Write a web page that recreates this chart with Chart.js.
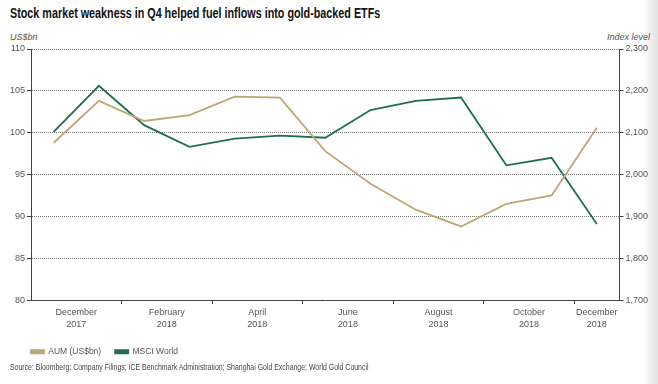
<!DOCTYPE html>
<html lang="en">
<head>
<meta charset="UTF-8">
<title>Gold ETF AUM vs MSCI World</title>
<script src="https://cdn.jsdelivr.net/npm/chart.js"></script>
<style>
  body { margin: 0; width: 658px; height: 384px; background: #fff; position: relative; overflow: hidden;
         font-family: "Liberation Sans", Arial, sans-serif; color: #555; }
  .shade { position: absolute; right: 0; top: 0; width: 16px; height: 384px;
           background: linear-gradient(to right, #ffffff, #e2e2e2); }
  /* the original uses a condensed face, squeeze the regular one */
  h1 { position: absolute; left: 10px; top: 5px; margin: 0; color: #111; white-space: nowrap;
       font: bold 14.2px "Liberation Sans", Arial, sans-serif;
       transform: scaleX(0.76); transform-origin: 0 0; }
  .unit { position: absolute; top: 32px; font-size: 9px; font-style: italic; color: #555; }
  .source { position: absolute; left: 10px; top: 362px; color: #444; white-space: nowrap;
            font: 9px "Liberation Sans", Arial, sans-serif;
            transform: scaleX(0.77); transform-origin: 0 0; }
  #wrap { position: absolute; left: 0; top: 0; width: 658px; height: 366px; }
</style>
</head>
<body>
<div class="shade"></div>
<h1>Stock market weakness in Q4 helped fuel inflows into gold-backed ETFs</h1>
<div class="unit" style="left:10px">US$bn</div>
<div class="unit" style="right:8px">Index level</div>
<div id="wrap"><canvas id="grafico"></canvas></div>
<div class="source">Source: Bloomberg; Company Filings; ICE Benchmark Administration; Shanghai Gold Exchange; World Gold Council</div>

<script>
// monthly points, Dec 2017 .. Dec 2018
const meses = ['Dec 2017', 'Jan 2018', 'Feb 2018', 'Mar 2018', 'Apr 2018', 'May 2018', 'Jun 2018',
               'Jul 2018', 'Aug 2018', 'Sep 2018', 'Oct 2018', 'Nov 2018', 'Dec 2018'];
const aum  = [98.8, 103.8, 101.4, 102.1, 104.3, 104.2, 97.8, 93.9, 90.8, 88.8, 91.5, 92.5, 100.6];
const msci = [2102, 2212, 2118, 2066, 2086, 2093, 2088, 2154, 2176, 2184, 2022, 2040, 1882];
const rotulos = [['December', '2017'], ['February', '2018'], ['April', '2018'], ['June', '2018'],
                 ['August', '2018'], ['October', '2018'], ['December', '2018']];

// each label covers two months (last one only one), tick marks sit between the pairs
let ultimo = meses.length - 1;
let posRotulo = rotulos.map((r, i) => Math.min(2 * i + 0.5, ultimo));
let posMarca = [];
for (let i = 1.5; i < ultimo; i += 2) posMarca.push(i);

let todasPos = posRotulo.concat(posMarca).sort((a, b) => a - b);

function serie(vals) {
    return vals.map((v, i) => ({x: i, y: v}));
}

// legend starts under the plot's left edge, not at the canvas edge
const legendaRecuo = {
    id: 'legendaRecuo',
    afterLayout(chart) {
        if (chart.legend) chart.legend.left = chart.chartArea.left - chart.legend.options.labels.padding;
    }
};

Chart.defaults.font.family = '"Liberation Sans", Arial, sans-serif';
Chart.defaults.font.size = 9;
Chart.defaults.color = '#555';

new Chart(document.getElementById('grafico'), {
    type: 'line',
    data: {
        datasets: [
            {
                label: 'AUM (US$bn)',
                data: serie(aum),
                borderColor: '#bda774',
                backgroundColor: '#bda774',
                borderWidth: 1.8,
                pointRadius: 0,
                yAxisID: 'y'
            },
            {
                label: 'MSCI World',
                data: serie(msci),
                borderColor: '#1f6f52',
                backgroundColor: '#1f6f52',
                borderWidth: 1.8,
                pointRadius: 0,
                yAxisID: 'y1'
            }
        ]
    },
    plugins: [legendaRecuo],
    options: {
        responsive: true,
        maintainAspectRatio: false,
        animation: false,
        layout: { padding: { left: 8, right: 8, top: 49, bottom: 0 } },
        plugins: {
            legend: {
                display: true,
                position: 'bottom',
                align: 'start',
                labels: { boxWidth: 13, boxHeight: 3, padding: 14, color: '#555', font: { size: 8.5 } }
            },
            tooltip: { enabled: false }
        },
        scales: {
            x: {
                type: 'linear',
                min: -0.5,
                max: ultimo + 0.5,
                afterBuildTicks: s => { s.ticks = todasPos.map(v => ({value: v})); },
                ticks: {
                    autoSkip: false,
                    maxRotation: 0,
                    padding: 3,
                    color: '#555',
                    font: { size: 9, lineHeight: 1.3 },
                    callback: v => {
                        let i = posRotulo.indexOf(v);
                        return i >= 0 ? rotulos[i] : '';
                    }
                },
                grid: {
                    drawOnChartArea: false,
                    tickLength: 4,
                    tickColor: c => (c.tick && posMarca.includes(c.tick.value)) ? '#444' : 'rgba(0,0,0,0)'
                },
                border: { color: '#444', width: 1 }
            },
            y: {
                position: 'left',
                min: 80,
                max: 110,
                ticks: { stepSize: 5, padding: 2, color: '#555' },
                grid: { color: '#7a7a7a', lineWidth: 1, tickLength: 4, tickColor: '#444' },
                border: { color: '#444', width: 1, dash: [1, 1] }
            },
            y1: {
                position: 'right',
                min: 1700,
                max: 2300,
                ticks: { stepSize: 100, padding: 2, color: '#555',
                         callback: v => v.toLocaleString('en-US') },
                grid: { drawOnChartArea: false, tickLength: 4, tickColor: '#444' },
                border: { color: '#444', width: 1 }
            }
        }
    }
});
</script>
</body>
</html>
